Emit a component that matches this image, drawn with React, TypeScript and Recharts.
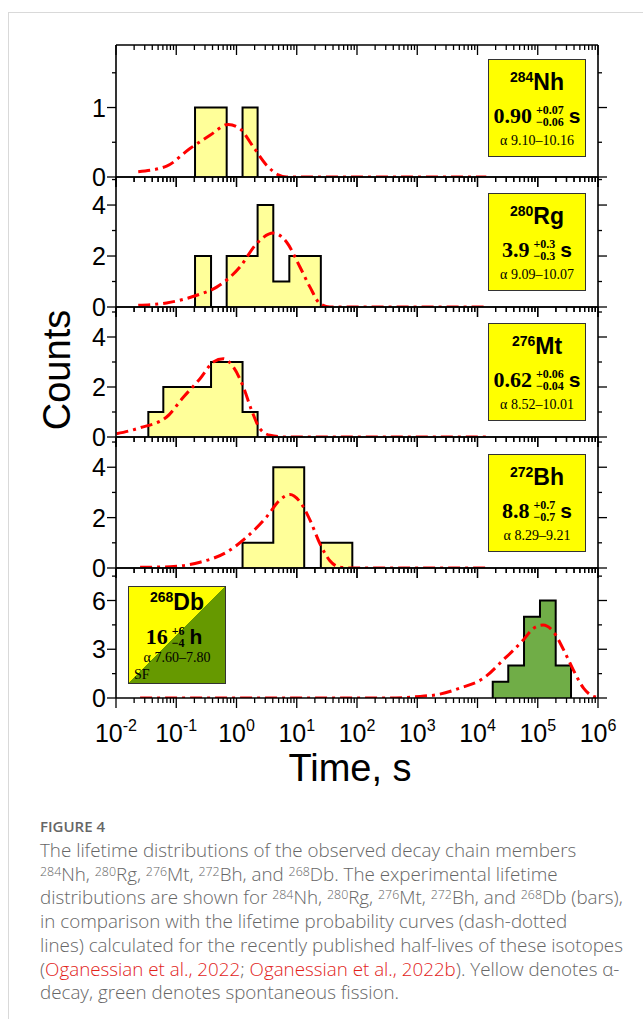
import React from 'react';
import { ComposedChart, Area, Line, XAxis, YAxis } from 'recharts';

// ---------- axis ticks ----------
const X_MAJOR = [0.01, 0.1, 1, 10, 100, 1000, 10000, 100000, 1000000];
const X_EXP = ['-2', '-1', '0', '1', '2', '3', '4', '5', '6'];
const X_MINOR_MULT = [2, 3, 4, 5, 6, 7, 8, 9];
const X_MINOR = X_MAJOR.slice(0, -1).flatMap((d) => X_MINOR_MULT.map((m) => m * d));
const X_TICKS = [...X_MAJOR, ...X_MINOR];

// ---------- histogram outlines (t = bin edge in s, c = counts) ----------
const nhHist = [
  { t: 0.205, c: 0 }, { t: 0.205, c: 1 }, { t: 0.687, c: 0 }, { t: 1.26, c: 1 }, { t: 2.24, c: 0 },
];
const rgHist = [
  { t: 0.205, c: 0 }, { t: 0.205, c: 2 }, { t: 0.378, c: 0 }, { t: 0.687, c: 2 }, { t: 2.24, c: 4 },
  { t: 4.08, c: 1 }, { t: 7.53, c: 2 }, { t: 25.1, c: 0 },
];
const mtHist = [
  { t: 0.0344, c: 0 }, { t: 0.0344, c: 1 }, { t: 0.061, c: 2 }, { t: 0.378, c: 3 }, { t: 1.26, c: 1 },
  { t: 2.24, c: 0 },
];
const bhHist = [
  { t: 1.26, c: 0 }, { t: 1.26, c: 1 }, { t: 4.08, c: 4 }, { t: 13.3, c: 0 }, { t: 25.1, c: 1 },
  { t: 83.6, c: 0 },
];
const dbHist = [
  { t: 17900, c: 0 }, { t: 17900, c: 1 }, { t: 32400, c: 2 }, { t: 59200, c: 5 }, { t: 108900, c: 6 },
  { t: 198600, c: 2 }, { t: 356500, c: 0 },
];

// ---------- lifetime probability curves ----------
const nhCurve = [
  { t: 0.0234, c: 0.076 }, { t: 0.0692, c: 0.157 }, { t: 0.169, c: 0.41 }, { t: 0.363, c: 0.6 },
  { t: 0.731, c: 0.757 }, { t: 1.14, c: 0.696 }, { t: 1.9, c: 0.433 }, { t: 3.16, c: 0.17 },
  { t: 4.94, c: 0.03 }, { t: 6.76, c: 0 }, { t: 100, c: 0 }, { t: 14000, c: 0 },
];
const rgCurve = [
  { t: 0.0234, c: 0.07 }, { t: 0.0692, c: 0.16 }, { t: 0.219, c: 0.46 }, { t: 0.468, c: 0.78 },
  { t: 1.14, c: 1.57 }, { t: 2.16, c: 2.49 }, { t: 4.08, c: 2.9 }, { t: 6.76, c: 2.55 },
  { t: 11.3, c: 1.57 }, { t: 16.6, c: 0.78 }, { t: 24.3, c: 0.13 }, { t: 35.5, c: 0 },
  { t: 1000, c: 0 }, { t: 14000, c: 0 },
];
const mtCurve = [
  { t: 0.0102, c: 0.13 }, { t: 0.0251, c: 0.37 }, { t: 0.0692, c: 0.8 }, { t: 0.132, c: 1.6 },
  { t: 0.248, c: 2.33 }, { t: 0.412, c: 3.0 }, { t: 0.603, c: 3.13 }, { t: 0.885, c: 2.8 },
  { t: 1.3, c: 2.0 }, { t: 1.78, c: 1.07 }, { t: 2.45, c: 0.33 }, { t: 3.6, c: 0.07 },
  { t: 6.76, c: 0 }, { t: 100, c: 0 }, { t: 14000, c: 0 },
];
const bhCurve = [
  { t: 0.0251, c: 0.03 }, { t: 0.0794, c: 0.05 }, { t: 0.248, c: 0.23 }, { t: 0.687, c: 0.63 },
  { t: 1.48, c: 1.23 }, { t: 3.16, c: 2.03 }, { t: 5.25, c: 2.7 }, { t: 7.73, c: 2.92 },
  { t: 11.3, c: 2.63 }, { t: 16.6, c: 1.9 }, { t: 24.3, c: 0.96 }, { t: 35.5, c: 0.29 },
  { t: 52.5, c: 0.03 }, { t: 85.1, c: 0 }, { t: 1000, c: 0 }, { t: 14000, c: 0 },
];
const dbCurve = [
  { t: 0.0251, c: 0 }, { t: 10, c: 0 }, { t: 355, c: 0 }, { t: 1122, c: 0.1 }, { t: 2089, c: 0.2 },
  { t: 5129, c: 0.61 }, { t: 12590, c: 1.22 }, { t: 26920, c: 2.35 }, { t: 57540, c: 3.57 },
  { t: 85110, c: 4.29 }, { t: 123000, c: 4.49 }, { t: 182000, c: 4.08 }, { t: 269200, c: 2.96 },
  { t: 389000, c: 1.73 }, { t: 575400, c: 0.61 }, { t: 831800, c: 0.1 }, { t: 955000, c: 0.05 },
];

const HIST_YELLOW = '#FFFF99';
const HIST_GREEN = '#70AD47';
const BOX_YELLOW = '#FFFF00';
const BOX_GREEN = '#669900';

const panels = [
  { id: 'nh', top: 45, height: 132, yMax: 1.9, yMajor: [0, 1], yMinor: [0.5, 1.5], hist: nhHist, curve: nhCurve, fill: HIST_YELLOW },
  { id: 'rg', top: 177, height: 130, yMax: 5.1, yMajor: [0, 2, 4], yMinor: [1, 3, 5], hist: rgHist, curve: rgCurve, fill: HIST_YELLOW },
  { id: 'mt', top: 307, height: 130, yMax: 5.2, yMajor: [0, 2, 4], yMinor: [1, 3, 5], hist: mtHist, curve: mtCurve, fill: HIST_YELLOW },
  { id: 'bh', top: 437, height: 131, yMax: 5.2, yMajor: [0, 2, 4], yMinor: [1, 3, 5], hist: bhHist, curve: bhCurve, fill: HIST_YELLOW },
  { id: 'db', top: 568, height: 130, yMax: 8, yMajor: [0, 3, 6], yMinor: [1.5, 4.5, 7.5], hist: dbHist, curve: dbCurve, fill: HIST_GREEN },
];

const AXIS = { stroke: '#000', strokeWidth: 1.6 };

function XTick(props: any) {
  const { x, y, payload, showLabel } = props;
  const idx = X_MAJOR.indexOf(payload.value);
  const major = idx >= 0;
  const len = major ? 10 : 5;
  return (
    <g>
      <line x1={x} x2={x} y1={y} y2={y + len} stroke="#000" strokeWidth={1.3} />
      {showLabel && major && (
        <text x={x} y={y + 44} textAnchor="middle" fontFamily="Arial, 'Liberation Sans', sans-serif" fontSize={25} fill="#000">
          10
          <tspan dy={-11} fontSize={16}>{X_EXP[idx]}</tspan>
        </text>
      )}
    </g>
  );
}

function YTick(props: any) {
  const { x, y, payload, side, majors } = props;
  const major = majors.indexOf(payload.value) >= 0;
  const len = major ? 9 : 4;
  const dir = side === 'left' ? -1 : 1;
  return (
    <g>
      <line x1={x} x2={x + dir * len} y1={y} y2={y} stroke="#000" strokeWidth={1.3} />
      {side === 'left' && major && (
        <text x={x - 10} y={y} dy="0.36em" textAnchor="end" fontFamily="Arial, 'Liberation Sans', sans-serif" fontSize={25} fill="#000">
          {payload.value}
        </text>
      )}
    </g>
  );
}

function Panel({ cfg, last }: { cfg: any; last: boolean }) {
  const mTop = 14;
  const mBottom = last ? 59 : 14;
  const yTicks = [...cfg.yMajor, ...cfg.yMinor];
  return (
    <div style={{ position: 'absolute', left: 0, top: cfg.top - mTop - 1 }}>
      <ComposedChart width={643} height={cfg.height + mTop + mBottom + 2} margin={{ top: mTop, bottom: mBottom, left: 0, right: 0 }}>
        <XAxis xAxisId="b" dataKey="t" type="number" scale="log" domain={[0.01, 1000000]} allowDataOverflow
          ticks={X_TICKS} interval={0} height={1} tickSize={0} tickMargin={0} tickLine={false} axisLine={AXIS}
          tick={(p: any) => <XTick {...p} showLabel={last} />} />
        <XAxis xAxisId="t" orientation="top" dataKey="t" type="number" scale="log" domain={[0.01, 1000000]} allowDataOverflow
          ticks={X_TICKS} interval={0} height={1} tickSize={0} tickMargin={0} tickLine={false} axisLine={AXIS}
          tick={(p: any) => <XTick {...p} showLabel={false} />} />
        <YAxis yAxisId="l" type="number" domain={[0, cfg.yMax]} allowDataOverflow ticks={yTicks} interval={0}
          width={116} tickSize={0} tickMargin={0} tickLine={false} axisLine={AXIS}
          tick={(p: any) => <YTick {...p} side="left" majors={cfg.yMajor} />} />
        <YAxis yAxisId="r" orientation="right" type="number" domain={[0, cfg.yMax]} allowDataOverflow ticks={yTicks} interval={0}
          width={45} tickSize={0} tickMargin={0} tickLine={false} axisLine={AXIS}
          tick={(p: any) => <YTick {...p} side="right" majors={cfg.yMajor} />} />
        <Area xAxisId="t" yAxisId="l" data={cfg.hist} dataKey="c" type="stepAfter" stroke="#000" strokeWidth={2}
          fill={cfg.fill} fillOpacity={1} dot={false} activeDot={false} isAnimationActive={false} />
        <Line xAxisId="b" yAxisId="r" data={cfg.curve} dataKey="c" type="monotone" stroke="#FF0000" strokeWidth={3}
          strokeDasharray="12 5 3 5" dot={false} activeDot={false} isAnimationActive={false} />
      </ComposedChart>
    </div>
  );
}

const serif = "'Liberation Serif', 'DejaVu Serif', serif";
const sans = "Arial, 'Liberation Sans', sans-serif";

function UpDown({ up, down, size }: { up: string; down: string; size: number }) {
  return (
    <span style={{ display: 'inline-flex', flexDirection: 'column', alignItems: 'flex-start', verticalAlign: 'middle', fontSize: size, lineHeight: `${size + 0.5}px`, margin: '0 5px 0 4px', fontFamily: serif, fontWeight: 700 }}>
      <span>{up}</span>
      <span>{down}</span>
    </span>
  );
}

function IsoBox(props: any) {
  const { left, top, mass, sym, val, up, down, unit, alpha, bg, rows, sf, shift } = props;
  return (
    <div style={{ position: 'absolute', left, top, width: 96, height: 96, border: '1.5px solid #333', background: bg, color: '#000' }}>
      <div style={{ position: 'absolute', left: 0, width: '100%', top: rows[0] - 12, height: 24, lineHeight: '24px', textAlign: 'center', fontFamily: sans, fontWeight: 700, fontSize: 23 }}>
        <span style={{ fontSize: 14, position: 'relative', top: -8 }}>{mass}</span>{sym}
      </div>
      <div style={{ position: 'absolute', left: shift || 0, width: '100%', top: rows[1] - 15, height: 30, display: 'flex', alignItems: 'center', justifyContent: 'center', whiteSpace: 'nowrap' }}>
        <span style={{ fontFamily: serif, fontWeight: 700, fontSize: 22 }}>{val}</span>
        <UpDown up={up} down={down} size={12} />
        <span style={{ fontFamily: sans, fontWeight: 700, fontSize: 21 }}>{unit}</span>
      </div>
      <div style={{ position: 'absolute', left: 0, width: '100%', top: rows[2] - 9, height: 18, lineHeight: '18px', textAlign: 'center', fontFamily: serif, fontSize: 14, whiteSpace: 'nowrap' }}>
        {alpha}
      </div>
      {sf && (
        <div style={{ position: 'absolute', left: 5, top: rows[3] - 9, height: 18, lineHeight: '18px', fontFamily: serif, fontSize: 14 }}>SF</div>
      )}
    </div>
  );
}

const Sup = ({ children }: { children: any }) => (
  <span style={{ fontSize: '0.66em', position: 'relative', top: '-0.4em', lineHeight: 1 }}>{children}</span>
);
const Ref = ({ children }: { children: any }) => <span style={{ color: '#E2231A' }}>{children}</span>;

export default function App() {
  return (
    <div style={{ position: 'absolute', left: 0, top: 0, width: 643, height: 1019, background: '#fff', overflow: 'hidden' }}>
      <div style={{ position: 'absolute', left: 8, top: 12, width: 700, height: 1100, borderTop: '1px solid #d9d9d9', borderLeft: '1px solid #d9d9d9' }} />
      {panels.map((p, i) => (
        <Panel key={p.id} cfg={p} last={i === panels.length - 1} />
      ))}
      <IsoBox left={488} top={59} mass="284" sym="Nh" val="0.90" up="+0.07" down="−0.06" unit="s" alpha="α 9.10–10.16" bg={BOX_YELLOW} rows={[22, 56, 81]} />
      <IsoBox left={488} top={193} mass="280" sym="Rg" val="3.9" up="+0.3" down="−0.3" unit="s" alpha="α 9.09–10.07" bg={BOX_YELLOW} rows={[22, 56, 81]} />
      <IsoBox left={488} top={323} mass="276" sym="Mt" val="0.62" up="+0.06" down="−0.04" unit="s" alpha="α 8.52–10.01" bg={BOX_YELLOW} rows={[22, 56, 81]} />
      <IsoBox left={488} top={454} mass="272" sym="Bh" val="8.8" up="+0.7" down="−0.7" unit="s" alpha="α 8.29–9.21" bg={BOX_YELLOW} rows={[22, 56, 81]} />
      <IsoBox left={128} top={586} mass="268" sym="Db" val="16" up="+6" down="−4" unit="h" alpha="α 7.60–7.80" sf shift={-3}
        bg={`linear-gradient(to bottom right, ${BOX_YELLOW} 50%, ${BOX_GREEN} 50%)`} rows={[15, 50, 71, 88]} />
      <div style={{ position: 'absolute', left: 57, top: 370, transform: 'translate(-50%, -50%) rotate(-90deg)', fontFamily: sans, fontSize: 38, whiteSpace: 'nowrap', color: '#000' }}>Counts</div>
      <div style={{ position: 'absolute', left: 350, top: 768, transform: 'translate(-50%, -50%)', fontFamily: sans, fontSize: 38, whiteSpace: 'nowrap', color: '#000' }}>Time, s</div>
      <div style={{ position: 'absolute', left: 40, top: 816, fontFamily: "'Open Sans', 'Noto Sans', sans-serif", color: '#666', whiteSpace: 'nowrap' }}>
        <div style={{ fontSize: 15, fontWeight: 600, lineHeight: '20px', height: 23 }}>FIGURE 4</div>
        <div style={{ fontSize: 18.8, lineHeight: '23.7px', fontWeight: 300 }}>
          <div>The lifetime distributions of the observed decay chain members</div>
          <div><Sup>284</Sup>Nh, <Sup>280</Sup>Rg, <Sup>276</Sup>Mt, <Sup>272</Sup>Bh, and <Sup>268</Sup>Db. The experimental lifetime</div>
          <div>distributions are shown for <Sup>284</Sup>Nh, <Sup>280</Sup>Rg, <Sup>276</Sup>Mt, <Sup>272</Sup>Bh, and <Sup>268</Sup>Db (bars),</div>
          <div>in comparison with the lifetime probability curves (dash-dotted</div>
          <div>lines) calculated for the recently published half-lives of these isotopes</div>
          <div>(<Ref>Oganessian et al., 2022</Ref>; <Ref>Oganessian et al., 2022b</Ref>). Yellow denotes α-</div>
          <div>decay, green denotes spontaneous fission.</div>
        </div>
      </div>
    </div>
  );
}
